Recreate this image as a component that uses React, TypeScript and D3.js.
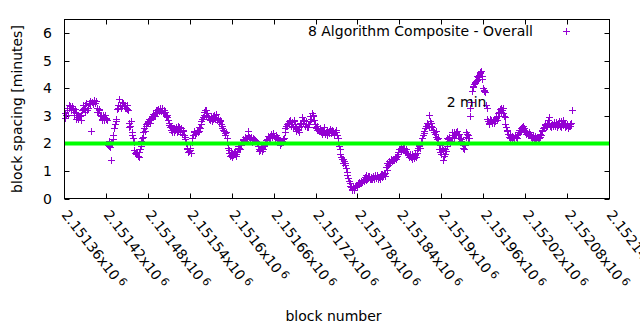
import React from 'react';
import * as d3 from 'd3';

// ---- data ----
// block spacing (minutes), for even-numbered blocks from 2151360 on
const FIRST_BLOCK = 2151360;
const BLOCK_STEP = 2;
const spacingEven: number[] = [
  2.92, 3.05, 3.2, 3.28, 3.35, 3.22, 3.3, 3.15, 3.1, 2.95, 2.9, 2.98, 3.05, 3.25, 3.3, 3.38, 3.2, 3.3, 3.42, 2.45,
  3.5, 3.58, 3.45, 3.3, 3.15, 3.2, 3.0, 2.9, 2.95, 3.02, 2.9, 1.95, 1.92, 1.4, 2.05, 2.3, 2.7, 2.88, 3.3, 3.62,
  3.4, 3.35, 3.45, 3.38, 3.3, 3.25, 2.75, 2.65, 2.4, 2.2, 1.75, 1.6, 1.68, 1.52, 1.78, 2.1, 2.25, 2.55, 2.62, 2.75,
  2.78, 2.85, 2.9, 2.98, 3.05, 3.1, 3.2, 3.25, 3.3, 3.18, 3.22, 3.1, 3.15, 2.95, 2.85, 2.68, 2.5, 2.42, 2.55, 2.48,
  2.55, 2.45, 2.6, 2.4, 2.35, 2.45, 2.15, 2.0, 1.78, 1.72, 1.75, 2.2, 2.3, 2.45, 2.38, 2.5, 2.45, 2.55, 2.8, 2.95,
  3.15, 3.22, 3.1, 2.95, 2.85, 3.0, 2.9, 3.05, 2.95, 2.85, 2.9, 2.8, 2.7, 2.55, 2.45, 2.3, 2.2, 1.85, 1.65, 1.58,
  1.5, 1.62, 1.72, 1.6, 1.78, 1.85, 1.95, 2.05, 2.15, 2.1, 2.2, 2.45, 2.25, 2.18, 2.12, 2.2, 2.08, 2.1, 2.02, 1.8,
  1.75, 1.82, 1.8, 1.9, 2.05, 2.15, 2.25, 2.2, 2.3, 2.38, 2.28, 2.22, 2.25, 2.15, 2.1, 2.0, 2.05, 2.2, 2.55, 2.7,
  2.75, 2.8, 2.65, 2.78, 2.85, 2.7, 2.45, 2.5, 2.6, 2.7, 2.95, 2.75, 2.65, 2.8, 2.6, 2.72, 3.0, 3.1, 3.0, 2.7,
  2.55, 2.62, 2.45, 2.5, 2.35, 2.42, 2.58, 2.4, 2.3, 2.45, 2.52, 2.38, 2.45, 2.35, 2.4, 2.3, 2.05, 1.78, 1.5, 1.42,
  1.35, 1.3, 0.95, 0.75, 0.55, 0.4, 0.32, 0.38, 0.42, 0.48, 0.55, 0.52, 0.62, 0.6, 0.72, 0.78, 0.68, 0.75, 0.82, 0.7,
  0.72, 0.8, 0.85, 0.75, 0.7, 0.78, 0.82, 0.9, 0.85, 0.92, 1.15, 1.3, 1.35, 1.3, 1.4, 1.45, 1.38, 1.5, 1.55, 1.7,
  1.78, 1.85, 1.75, 1.82, 1.7, 1.65, 1.6, 1.55, 1.5, 1.62, 1.48, 1.58, 1.65, 1.85, 1.95, 2.05, 2.2, 2.45, 2.55, 2.62,
  2.7, 3.05, 2.75, 2.6, 2.5, 2.35, 2.25, 2.05, 1.8, 1.7, 1.85, 1.38, 1.6, 1.72, 2.2, 2.1, 2.0, 2.25, 2.3, 2.4,
  2.3, 2.45, 2.35, 2.2, 2.15, 1.95, 1.8, 2.25, 2.35, 2.3, 3.0, 3.5, 4.05, 4.15, 4.2, 4.3, 4.4, 4.55, 4.62, 4.45,
  3.95, 3.85, 3.3, 2.8, 2.7, 2.85, 2.75, 2.9, 2.8, 2.95, 3.0, 3.15, 3.28, 3.2, 3.1, 2.95, 2.6, 2.45, 2.25, 2.3,
  2.2, 2.25, 2.18, 2.25, 2.3, 2.42, 2.5, 2.55, 2.65, 2.5, 2.45, 2.38, 2.3, 2.35, 2.25, 2.3, 2.2, 2.15, 2.22, 2.2,
  2.22, 2.3, 2.45, 2.6, 2.7, 2.65, 2.85, 2.75, 2.6, 2.7, 2.78, 2.62, 2.72, 2.68, 2.8, 2.58, 2.75, 2.85, 2.7, 2.62,
  2.6, 2.65, 2.7, 3.2,
];
// the same for odd-numbered blocks from 2151361 on
const spacingOdd: number[] = [
  3.1, 3.3, 3.05, 3.4, 3.2, 3.35, 3.05, 3.25, 2.9, 3.05, 3.0, 2.85, 3.2, 3.4, 3.15, 3.45, 3.3, 3.45, 3.55, 3.5,
  3.42, 3.45, 3.55, 3.15, 3.25, 3.05, 2.85, 3.05, 2.85, 2.92, 2.85, 2.1, 1.88, 2.0, 2.15, 2.55, 2.8, 3.25, 3.4, 3.35,
  3.3, 3.5, 3.4, 3.3, 3.4, 3.2, 2.6, 2.8, 2.3, 2.05, 1.65, 1.7, 1.55, 1.7, 1.9, 2.2, 2.4, 2.45, 2.7, 2.82,
  2.9, 2.75, 2.98, 3.08, 3.0, 3.2, 3.12, 3.18, 3.2, 3.28, 3.1, 3.2, 2.98, 3.02, 2.75, 2.6, 2.62, 2.55, 2.4, 2.58,
  2.42, 2.62, 2.5, 2.55, 2.48, 2.3, 2.25, 1.85, 1.7, 1.82, 1.65, 2.05, 2.4, 2.35, 2.5, 2.4, 2.58, 2.7, 2.9, 3.05,
  3.2, 3.05, 3.0, 2.88, 2.95, 2.82, 3.0, 2.88, 3.08, 2.92, 2.78, 2.85, 2.62, 2.48, 2.38, 2.4, 2.05, 1.75, 1.55, 1.68,
  1.58, 1.68, 1.55, 1.7, 1.9, 1.8, 2.02, 2.12, 2.08, 2.25, 2.15, 2.3, 2.15, 2.25, 2.05, 2.15, 2.12, 2.0, 1.9, 1.72,
  1.85, 1.72, 1.95, 1.98, 2.12, 2.28, 2.18, 2.35, 2.25, 2.3, 2.2, 2.32, 2.18, 2.05, 1.95, 2.1, 2.15, 2.4, 2.65, 2.62,
  2.7, 2.85, 2.72, 2.6, 2.8, 2.55, 2.52, 2.42, 2.75, 2.62, 2.8, 2.85, 2.72, 2.58, 2.7, 2.8, 2.9, 3.05, 2.85, 2.6,
  2.48, 2.5, 2.55, 2.4, 2.45, 2.5, 2.35, 2.48, 2.42, 2.38, 2.45, 2.5, 2.32, 2.42, 2.48, 2.2, 1.9, 1.62, 1.45, 1.3,
  1.22, 1.1, 0.85, 0.62, 0.45, 0.35, 0.4, 0.3, 0.5, 0.45, 0.6, 0.58, 0.55, 0.68, 0.65, 0.85, 0.72, 0.8, 0.7, 0.78,
  0.78, 0.72, 0.8, 0.85, 0.75, 0.72, 0.88, 0.78, 0.9, 0.8, 1.05, 1.22, 1.28, 1.42, 1.35, 1.4, 1.48, 1.45, 1.62, 1.8,
  1.72, 1.8, 1.85, 1.72, 1.78, 1.58, 1.52, 1.62, 1.45, 1.55, 1.6, 1.5, 1.75, 1.9, 1.85, 2.0, 2.3, 2.38, 2.65, 2.75,
  2.58, 2.8, 2.65, 2.5, 2.4, 2.45, 2.15, 2.2, 1.95, 1.6, 1.75, 1.55, 1.8, 1.9, 2.15, 2.25, 2.1, 2.4, 2.2, 2.35,
  2.42, 2.3, 2.2, 2.1, 2.0, 1.85, 1.95, 2.4, 2.2, 2.2, 3.3, 3.9, 4.1, 4.22, 4.25, 4.45, 4.5, 4.6, 4.35, 4.0,
  3.9, 3.4, 2.9, 2.75, 2.9, 2.8, 2.85, 2.75, 2.92, 2.85, 3.1, 3.25, 3.15, 3.3, 3.0, 2.7, 2.5, 2.35, 2.2, 2.25,
  2.28, 2.2, 2.3, 2.2, 2.35, 2.5, 2.45, 2.6, 2.55, 2.42, 2.35, 2.3, 2.4, 2.28, 2.2, 2.25, 2.28, 2.2, 2.25, 2.18,
  2.35, 2.5, 2.55, 2.68, 2.6, 2.75, 2.95, 2.65, 2.72, 2.65, 2.7, 2.78, 2.6, 2.75, 2.62, 2.82, 2.68, 2.72, 2.6, 2.7,
  2.55, 2.62, 2.75,
];

const X_DOMAIN = [2151360, 2152140];
const X_TICKS = [2151360, 2151420, 2151480, 2151540, 2151600, 2151660, 2151720, 2151780, 2151840, 2151900, 2151960, 2152020, 2152080, 2152140];
const X_TICK_LABELS = ['2.15136', '2.15142', '2.15148', '2.15154', '2.1516', '2.15166', '2.15172', '2.15178', '2.15184', '2.1519', '2.15196', '2.15202', '2.15208', '2.15214'];
const Y_DOMAIN = [0, 6.5];
const Y_TICKS = [0, 1, 2, 3, 4, 5, 6];
const TARGET_LINE = [2];
const SERIES_NAME = '8 Algorithm Composite - Overall';
const ANNOT_TEXT = ['2 min'];
const ANNOT_BLOCK = [2151907];
const ANNOT_VALUE = [3.5];

const PURPLE = '#9400d3';
const GREEN = '#00ff00';
const FONT = '"DejaVu Sans", sans-serif';

const plus = (cx: number, cy: number, r = 3.5) => {
  const px = Math.round(cx) + 0.5;
  const py = Math.round(cy) + 0.5;
  return `M${px - r},${py}H${px + r}M${px},${py - r}V${py + r}`;
};

export default function App() {
  const W = 640, H = 330;
  const L = 64.5, R = 609.5, T = 19.5, B = 198.5;
  const x = d3.scaleLinear().domain(X_DOMAIN).range([L, R]);
  const y = d3.scaleLinear().domain(Y_DOMAIN).range([B, T]);
  const pts = [
    ...spacingEven.map((v, i) => ({ b: FIRST_BLOCK + i * BLOCK_STEP, v })),
    ...spacingOdd.map((v, i) => ({ b: FIRST_BLOCK + 1 + i * BLOCK_STEP, v })),
  ].sort((a, b) => a.b - b.b);
  const pointsPath = pts.map((p) => plus(x(p.b), y(p.v))).join('');
  const tk = 5;

  return (
    <svg width={W} height={H} style={{ position: 'absolute', left: 0, top: 0, background: '#fff' }} fontFamily={FONT} fontSize={14}>
      <rect x={0} y={0} width={W} height={H} fill="#fff" />
      {/* ticks */}
      <g stroke="#000" strokeWidth={1}>
        {Y_TICKS.map((t) => {
          const yy = Math.round(y(t)) + 0.5;
          return (
            <g key={'yt' + t}>
              <line x1={L} x2={L + tk} y1={yy} y2={yy} />
              <line x1={R} x2={R - tk} y1={yy} y2={yy} />
            </g>
          );
        })}
        {X_TICKS.map((t) => {
          const xx = Math.round(x(t) - 0.5) + 0.5;
          return (
            <g key={'xt' + t}>
              <line x1={xx} x2={xx} y1={B} y2={B - tk} />
              <line x1={xx} x2={xx} y1={T} y2={T + tk} />
            </g>
          );
        })}
      </g>
      {/* y tick labels */}
      {Y_TICKS.map((t) => (
        <text key={'yl' + t} x={52} y={y(t)} textAnchor="end" dominantBaseline="central" fill="#000">
          {t}
        </text>
      ))}
      {/* x tick labels */}
      {X_TICKS.map((t, i) => (
        <text
          key={'xl' + t}
          transform={`translate(${x(t) + 0.5},212) rotate(52)`}
          textAnchor="start"
          dominantBaseline="central"
          fill="#000"
        >
          <tspan>{X_TICK_LABELS[i] + 'x10'}</tspan>
          <tspan dx={3} dy={-3} fontSize={11}>6</tspan>
        </text>
      ))}
      {/* data points */}
      <path d={pointsPath} stroke={PURPLE} strokeWidth={1} fill="none" />
      {/* target line */}
      {TARGET_LINE.map((v) => (
        <line key={'tl' + v} x1={L} x2={R} y1={y(v)} y2={y(v)} stroke={GREEN} strokeWidth={4} />
      ))}
      {/* annotation */}
      {ANNOT_TEXT.map((s, i) => (
        <text key={'an' + i} x={x(ANNOT_BLOCK[i])} y={y(ANNOT_VALUE[i])} dominantBaseline="central" fill="#000">
          {s}
        </text>
      ))}
      {/* legend */}
      <text x={533} y={31} textAnchor="end" dominantBaseline="central" fill="#000">
        {SERIES_NAME}
      </text>
      <path d={plus(566, 31)} stroke={PURPLE} strokeWidth={1} fill="none" />
      {/* border */}
      <rect x={L} y={T} width={R - L} height={B - T} fill="none" stroke="#000" strokeWidth={1} />
      {/* axis titles */}
      <text transform={`translate(17,${(T + B) / 2}) rotate(-90)`} textAnchor="middle" dominantBaseline="central" fill="#000">
        block spacing [minutes]
      </text>
      <text x={333.5} y={316} textAnchor="middle" dominantBaseline="central" fill="#000">
        block number
      </text>
    </svg>
  );
}
